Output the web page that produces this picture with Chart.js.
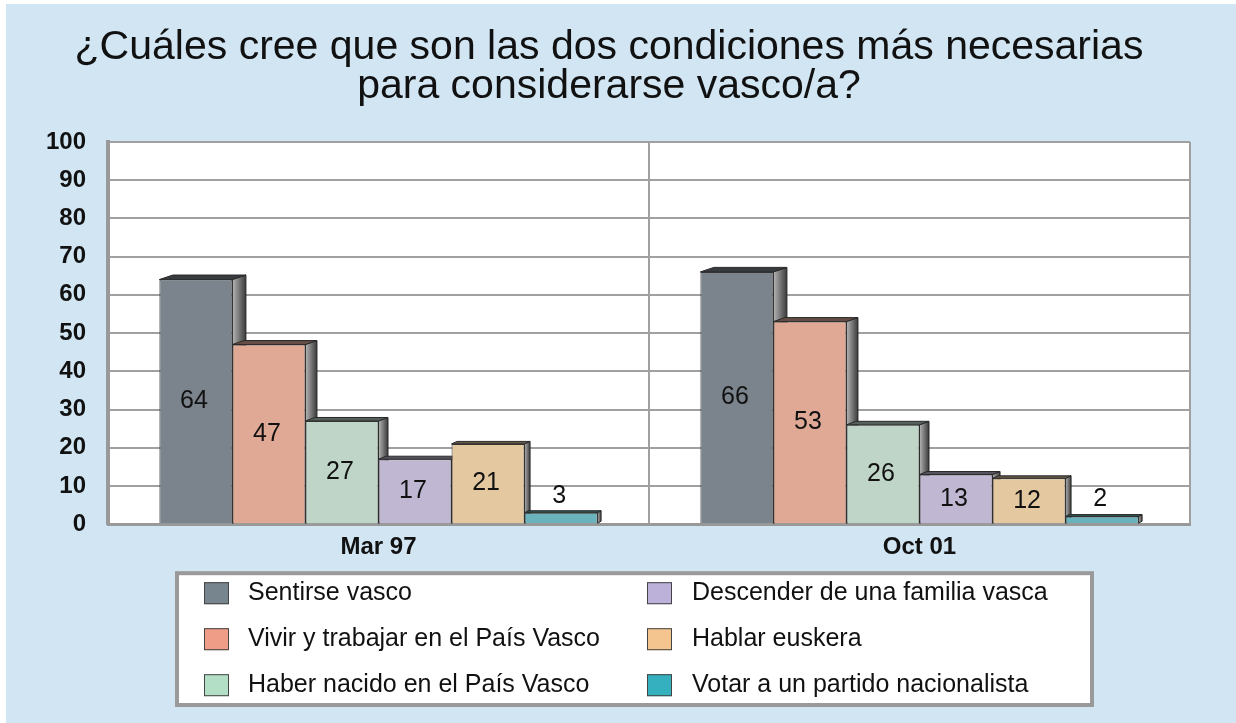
<!DOCTYPE html>
<html lang="es">
<head>
<meta charset="utf-8">
<title>Condiciones para considerarse vasco/a</title>
<script src="https://cdn.jsdelivr.net/npm/chart.js@4.4.1/dist/chart.umd.min.js"></script>
<style>
  html, body { margin: 0; padding: 0; background: #fff; }
</style>
</head>
<body>
<canvas id="grafico" width="1236" height="723"></canvas>
<script>
// Datos del gráfico
const titulo = ['¿Cuáles cree que son las dos condiciones más necesarias', 'para considerarse vasco/a?'];
const categorias = ['Mar 97', 'Oct 01'];
const condiciones = [
    'Sentirse vasco',
    'Vivir y trabajar en el País Vasco',
    'Haber nacido en el País Vasco',
    'Descender de una familia vasca',
    'Hablar euskera',
    'Votar a un partido nacionalista'
];
const sentirseVasco = [64, 66];
const vivirTrabajar = [47, 53];
const haberNacido = [27, 26];
const descenderFamilia = [17, 13];
const hablarEuskera = [21, 12];
const votarNacionalista = [3, 2];
const marcasY = [0, 10, 20, 30, 40, 50, 60, 70, 80, 90, 100];

const valores = [sentirseVasco, vivirTrabajar, haberNacido, descenderFamilia, hablarEuskera, votarNacionalista];
const coloresBarra = ['#7b848c', '#e0a996', '#bfd5c8', '#c0b8d2', '#e4c8a0', '#6ab3bd'];
const coloresLeyenda = ['#77858e', '#ef9d86', '#b4dfc7', '#bcb1d9', '#f5c590', '#35b0bf'];

const fuente = "'Liberation Sans', Arial, sans-serif";
Chart.defaults.font.family = fuente;

// Oscurecer un color para la cara superior
function oscurecer(hex, f) {
    const n = parseInt(hex.slice(1), 16);
    const r = Math.round(((n >> 16) & 255) * f);
    const g = Math.round(((n >> 8) & 255) * f);
    const b = Math.round((n & 255) * f);
    return `rgb(${r}, ${g}, ${b})`;
}

// Fondo azul y área del gráfico en blanco
const fondo = {
    id: 'fondo',
    beforeDraw(chart) {
        const { ctx, width, height, chartArea } = chart;
        ctx.save();
        ctx.fillStyle = '#fff';
        ctx.fillRect(0, 0, width, height);
        ctx.fillStyle = '#d1e5f3';
        ctx.fillRect(6, 4, width - 6, height - 4);
        ctx.fillStyle = '#fff';
        ctx.fillRect(chartArea.left, chartArea.top, chartArea.right - chartArea.left, chartArea.bottom - chartArea.top);
        ctx.restore();
    }
};

// Caras laterales y superiores (efecto 3D)
const barras3d = {
    id: 'barras3d',
    beforeDatasetsDraw(chart) {
        const ctx = chart.ctx;
        const n = chart.data.datasets.length;
        for (let j = 0; j < categorias.length; j++) {
            for (let i = 0; i < n; i++) {
                const bar = chart.getDatasetMeta(i).data[j];
                const dx = 13.5 - 2 * i;
                const dy = 4.5 - 0.5 * i;
                const izq = bar.x - bar.width / 2;
                const der = bar.x + bar.width / 2;
                const arriba = bar.y;
                const abajo = bar.base;
                ctx.save();
                ctx.strokeStyle = '#2a2a2a';
                ctx.lineWidth = 1;
                // lateral
                const grad = ctx.createLinearGradient(der, 0, der + dx, 0);
                grad.addColorStop(0, '#b5b5b5');
                grad.addColorStop(1, '#3a3a3a');
                ctx.fillStyle = grad;
                ctx.beginPath();
                ctx.moveTo(der, arriba);
                ctx.lineTo(der + dx, arriba - dy);
                ctx.lineTo(der + dx, abajo - dy);
                ctx.lineTo(der, abajo);
                ctx.closePath();
                ctx.fill();
                ctx.stroke();
                // superior
                ctx.fillStyle = oscurecer(coloresBarra[i], 0.45);
                ctx.beginPath();
                ctx.moveTo(izq, arriba);
                ctx.lineTo(izq + dx, arriba - dy);
                ctx.lineTo(der + dx, arriba - dy);
                ctx.lineTo(der, arriba);
                ctx.closePath();
                ctx.fill();
                ctx.stroke();
                ctx.restore();
            }
        }
    },
    afterDatasetsDraw(chart) {
        const ctx = chart.ctx;
        ctx.save();
        ctx.font = `25px ${fuente}`;
        ctx.fillStyle = '#111';
        ctx.textAlign = 'center';
        ctx.textBaseline = 'middle';
        chart.data.datasets.forEach((ds, i) => {
            chart.getDatasetMeta(i).data.forEach((bar, j) => {
                const v = ds.data[j];
                const y = v >= 5 ? (bar.y + bar.base) / 2 : bar.y - 17;
                ctx.fillText(String(v), bar.x - 2, y);
            });
        });
        ctx.restore();
    }
};

// Leyenda en dos columnas dentro de un recuadro
const leyenda = {
    id: 'leyendaCaja',
    afterDraw(chart) {
        const { ctx, chartArea, height } = chart;
        const izq = chartArea.left + 69;
        const der = chartArea.right - 98;
        const arriba = chartArea.bottom + 49;
        const abajo = height - 18;
        ctx.save();
        ctx.fillStyle = '#fff';
        ctx.fillRect(izq, arriba, der - izq, abajo - arriba);
        ctx.strokeStyle = '#9a9a9a';
        ctx.lineWidth = 4;
        ctx.strokeRect(izq, arriba, der - izq, abajo - arriba);
        ctx.font = `25px ${fuente}`;
        ctx.textBaseline = 'middle';
        ctx.textAlign = 'left';
        condiciones.forEach((txt, i) => {
            const col = Math.floor(i / 3);
            const fila = i % 3;
            const cy = arriba + 20 + fila * 46;
            const sx = izq + 27 + col * 443;
            const tx = izq + 71 + col * 444;
            ctx.fillStyle = coloresLeyenda[i];
            ctx.fillRect(sx, cy - 11, 25, 22);
            ctx.strokeStyle = '#444';
            ctx.lineWidth = 1;
            ctx.strokeRect(sx + 0.5, cy - 10.5, 24, 21);
            ctx.fillStyle = '#111';
            ctx.fillText(txt, tx, cy);
        });
        ctx.restore();
    }
};

new Chart(document.getElementById('grafico'), {
    type: 'bar',
    data: {
        labels: categorias,
        datasets: condiciones.map((c, i) => ({
            label: c,
            data: valores[i],
            backgroundColor: coloresBarra[i],
            borderColor: '#333',
            borderWidth: 1,
            categoryPercentage: 0.81,
            barPercentage: 1
        }))
    },
    options: {
        responsive: false,
        animation: false,
        layout: { padding: { left: 28, right: 46, top: 0, bottom: 152 } },
        plugins: {
            legend: { display: false },
            tooltip: { enabled: false },
            title: {
                display: true,
                text: titulo,
                color: '#111',
                font: { size: 41, weight: 'normal', lineHeight: 0.95 },
                padding: { top: 28, bottom: 36 }
            }
        },
        scales: {
            x: {
                grid: { color: '#a0a0a0', lineWidth: 2, drawTicks: false, offset: true },
                border: { color: '#999', width: 3 },
                ticks: { color: '#111', padding: 9, font: { size: 24, weight: 'bold' } }
            },
            y: {
                min: marcasY[0],
                max: marcasY[marcasY.length - 1],
                afterFit: s => { s.width = 80; },
                afterBuildTicks: s => { s.ticks = marcasY.map(v => ({ value: v })); },
                grid: { color: '#a0a0a0', lineWidth: 2, drawTicks: false },
                border: { color: '#999', width: 4 },
                ticks: { color: '#111', padding: 22, font: { size: 24, weight: 'bold' } }
            }
        }
    },
    plugins: [fondo, barras3d, leyenda]
});
</script>
</body>
</html>
